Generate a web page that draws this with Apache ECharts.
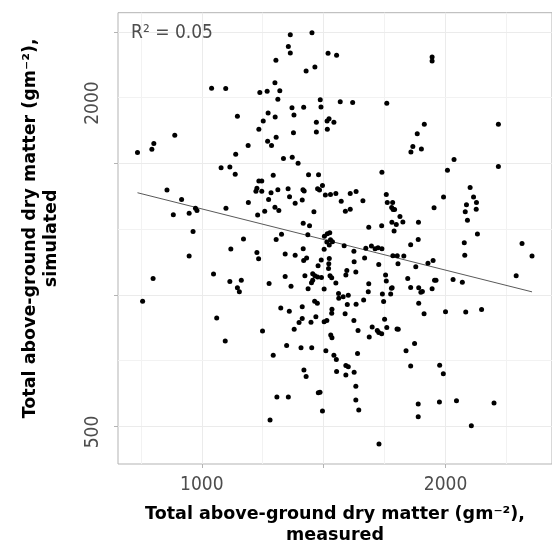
<!DOCTYPE html>
<html>
<head>
<meta charset="utf-8">
<script src="https://cdn.jsdelivr.net/npm/echarts@6/dist/echarts.min.js"></script>
<style>
html,body{margin:0;padding:0;background:#fff;}
#chart{width:552px;height:551px;}
</style>
</head>
<body>
<div id="chart"></div>
<script>
// Measured total above-ground dry matter (g m-2)
const measured = [
1363,1452,1355,1363,1518,1553,1304,1428,1464,1945,1945,1040,1098,1300,1238,1268,1320,1312,1486,1568,1619,1759,
1370,1418,1489,1272,1146,1301,1378,1252,1470,1514,1522,1542,1234,1515,1470,1376,889,803,795,736,1305,1270,1286,1190,1139,1335,1371,1395,
2217,1913,1884,1866,1858,1901,2035,2217,2008,1739,1079,1115,1137,1293,1438,1479,857,1234,1246,1226,1222,1246,1284,1312,1354,1360,1415,1420,1475,1483,1495,1507,1528,1550,1609,1633,1757,1992,2101,2115,
917,883,948,974,980,964,948,800,1099,1191,1229,1258,1274,1300,1316,1383,1412,1460,1572,1589,1609,1661,1761,1783,1779,1785,1791,1813,1780,1798,1825,1738,1685,1789,1889,1953,2086,2127,2126,2081,2090,2131,2077,2079,2314,2355,2290,
1888,1857,1878,1928,1949,1829,1784,1802,1805,1739,1723,1711,1696,1673,1668,1726,1624,1584,1625,1632,1595,1591,1754,1757,1845,1955,1961,2031,2069,
1503,1515,1525,1528,1536,1513,1523,1442,1416,1435,1327,1305,1171,1119,1226,1233,1342,1383,1416,1502,1418,1430,1490,1523,1521,1520,1477,1048,1115,1162,1146,1276,1342,1366,1423,
1455,1464,1455,1450,1475,1491,1526,1533,1550,1436,1502,1685,1781,1857,1890,1945,
1154,1561,1562,1580,1601,1683,1741,1775,1778,1899,1905,1746,1664,1633,1597,1463,1474,1412,1324,1359,1534,1533,1588,1890,1912,2000,2083,2148,757,1061,1249,1096,
1412,1468,1399,1448,1502,1513,1379,1624,1750,1699,1641,1720,1726,1738,1759,1801,1806,1687,1529,1534,1348,1407,1451,1509,1293,1542,1552,1639,1838,1873,
1419,1428,1553,1591,1601,1591,1625,1857,1976,1991,
1632,1308,1355,1478,1485,1632,1495,1644,1280,1727,1888,1888,1975,2045,2106,2199
];
// Simulated total above-ground dry matter (g m-2)
const simulated = [
2286,2295,2233,2203,2202,2193,2170,2121,2139,2185,2167,2043,2041,2067,2023,2029,2031,1992,1990,1981,1978,1974,
1953,1956,1957,1930,1915,1911,1921,1893,1888,1893,1903,1887,1855,1855,1843,1839,1828,1791,1764,1750,1819,1801,1781,1781,1741,1722,1728,1700,
1878,1878,1835,1777,1752,1765,1718,1686,1669,1659,1680,1683,1650,1646,1648,1648,1578,1620,1620,1586,1573,1573,1566,1580,1584,1548,1580,1574,1584,1578,1599,1556,1558,1563,1563,1572,1558,1547,1590,1547,
1535,1466,1472,1495,1485,1389,1277,1175,1495,1521,1464,1482,1535,1500,1485,1518,1533,1479,1527,1482,1491,1530,1521,1521,1499,1490,1490,1458,1431,1421,1432,1416,1409,1392,1431,1497,1511,1522,1491,1479,1440,1378,1338,1281,1335,1277,1188,
1353,1329,1229,1245,1257,1277,1279,1279,1242,1311,1315,1311,1323,1313,1268,1239,1299,1324,1251,1205,1211,1191,1191,1163,1175,1167,1167,1170,1158,
1368,1379,1384,1352,1343,1341,1328,1416,1427,1374,1377,1353,1355,1310,1293,1265,1287,1281,1311,1308,1257,1268,1259,1266,1242,1220,1233,1196,1161,1167,1133,1152,1184,1139,1188,
1197,1187,1167,1155,1182,1179,1188,1178,1154,1128,1127,1151,1133,1134,1133,1128,
1115,1107,1085,1092,1098,1115,1104,1104,1131,1112,1116,1070,1077,1058,1056,1071,1062,1046,1040,1025,1035,1016,1014,1062,1014,1023,1022,1034,1071,995,936,890,
992,1001,974,975,978,983,944,983,989,954,938,938,929,923,951,945,944,908,917,905,869,859,859,845,825,825,805,833,846,878,
758,728,751,778,773,735,747,776,779,740,
683,634,634,654,656,621,571,575,530,420,603,545,612,617,503,607
];
// Least-squares fit line end points [measured, simulated]
const fitLine = [[736, 1566], [2355, 1114]];
const rSquared = 'R\u00B2 = 0.05';

// Axis settings
const xRange = [656, 2437];
const yRange = [329, 2387];
const xMajor = [1000, 1500, 2000];
const xMinor = [750, 1250, 1750, 2250];
const xTickLabels = [1000, 2000];
const yMajor = [500, 1100, 1700, 2300];
const yMinor = [800, 1400, 2000];
const yTickLabels = [500, 2000];
const xTitle = 'Total above-ground dry matter (gm\u207B\u00B2),\nmeasured';
const yTitleLine1 = 'Total above-ground dry matter (gm\u207B\u00B2),';
const yTitleLine2 = 'simulated';

const points = measured.map((m, i) => [m, simulated[i]]);

const tickFont = "'DejaVu Sans Condensed', 'Noto Sans', sans-serif";
const titleFont = "'DejaVu Sans', sans-serif";
const titleStyle = {fontFamily: titleFont, fontWeight: 'bold', fontSize: 17.5, color: '#000', lineHeight: 21};

const gridLines = [];
xMajor.forEach(v => gridLines.push({xAxis: v, lineStyle: {color: '#ebebeb', width: 1, type: 'solid'}}));
xMinor.forEach(v => gridLines.push({xAxis: v, lineStyle: {color: '#f2f2f2', width: 1, type: 'solid'}}));
yMajor.forEach(v => gridLines.push({yAxis: v, lineStyle: {color: '#ebebeb', width: 1, type: 'solid'}}));
yMinor.forEach(v => gridLines.push({yAxis: v, lineStyle: {color: '#f2f2f2', width: 1, type: 'solid'}}));

const chart = echarts.init(document.getElementById('chart'), null, {renderer: 'canvas'});
chart.setOption({
  animation: false,
  backgroundColor: '#ffffff',
  grid: {left: 118, right: -9.4, top: 12.7, bottom: 81, show: true, borderColor: '#b3b3b3', borderWidth: 1, backgroundColor: 'transparent'},
  xAxis: {
    type: 'value', min: xRange[0], max: xRange[1],
    splitLine: {show: false},
    axisLine: {show: false},
    axisTick: {show: true, customValues: xMajor, length: 4, lineStyle: {color: '#b3b3b3', width: 1}},
    axisLabel: {customValues: xTickLabels, formatter: v => String(v), margin: 12, fontSize: 19, color: '#4d4d4d', fontFamily: tickFont},
    name: xTitle, nameLocation: 'middle', nameGap: 40,
    nameTextStyle: Object.assign({align: 'center'}, titleStyle)
  },
  yAxis: {
    type: 'value', min: yRange[0], max: yRange[1],
    splitLine: {show: false},
    axisLine: {show: false},
    axisTick: {show: true, customValues: yMajor, length: 4, lineStyle: {color: '#b3b3b3', width: 1}},
    axisLabel: {customValues: yTickLabels, formatter: v => String(v), rotate: 90, margin: 15, padding: [0, 11, 0, 0], fontSize: 19, color: '#4d4d4d', fontFamily: tickFont},
    name: '{t|' + yTitleLine1 + '}\n{s|' + yTitleLine2 + '}', nameLocation: 'middle', nameGap: 56, nameRotate: 90,
    nameTextStyle: Object.assign({align: 'center', rich: {
      t: Object.assign({padding: [0, 0, 0, 20]}, titleStyle),
      s: Object.assign({}, titleStyle)
    }}, titleStyle)
  },
  graphic: [{
    type: 'text', left: 131, top: 24, z: 10,
    style: {text: rSquared, font: "19px 'DejaVu Sans Condensed', 'Noto Sans', sans-serif", fill: '#4d4d4d'}
  }],
  series: [
    {type: 'line', data: [], z: 0, silent: true,
     markLine: {z: 0, silent: true, symbol: ['none', 'none'], label: {show: false}, animation: false, data: gridLines}},
    {type: 'scatter', data: points, symbol: 'circle', symbolSize: 5, itemStyle: {color: '#000', borderWidth: 0, opacity: 1}, z: 3, silent: true},
    {type: 'line', data: fitLine, showSymbol: false, symbol: 'none', lineStyle: {color: '#595959', width: 1}, z: 2, silent: true}
  ]
});
</script>
</body>
</html>
